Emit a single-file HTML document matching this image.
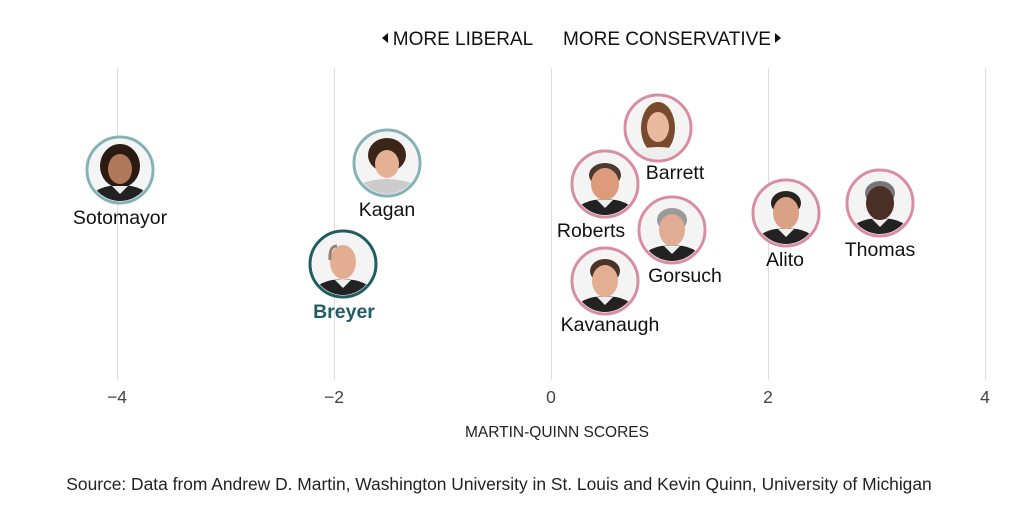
<!DOCTYPE html>
<html><head><meta charset="utf-8"><style>
html,body{margin:0;padding:0;background:#fff;}
svg{display:block;font-family:"Liberation Sans",sans-serif;}
</style></head><body>
<svg width="1023" height="507" viewBox="0 0 1023 507" xmlns="http://www.w3.org/2000/svg">
<defs>
<clipPath id="c"><circle cx="0" cy="0" r="31"/></clipPath>
<g id="robe"><path d="M-30 31 L-26 22 Q-14 14 0 16 Q14 14 26 22 L30 31 Z" fill="#222"/><path d="M-8 16 L0 24 L8 16 Z" fill="#eee"/></g>
</defs>
<g stroke="#ddd" stroke-width="1">
<line x1="117.5" y1="68" x2="117.5" y2="380"/><line x1="334.5" y1="68" x2="334.5" y2="380"/><line x1="551.5" y1="68" x2="551.5" y2="380"/><line x1="768.5" y1="68" x2="768.5" y2="380"/><line x1="985.5" y1="68" x2="985.5" y2="380"/>
</g>
<g font-size="17.5" fill="#111" text-anchor="middle">
<text x="117" y="403" fill="#444">−4</text><text x="334" y="403" fill="#444">−2</text><text x="551" y="403" fill="#444">0</text><text x="768" y="403" fill="#444">2</text><text x="985" y="403" fill="#444">4</text>
<text x="557" y="437" font-size="15.5" fill="#222">MARTIN-QUINN SCORES</text>
<text x="499" y="490" font-size="17.4" fill="#222">Source: Data from Andrew D. Martin, Washington University in St. Louis and Kevin Quinn, University of Michigan</text>
<text x="463" y="45" font-size="19" fill="#111">MORE LIBERAL</text>
<text x="667" y="45" font-size="19" fill="#111">MORE CONSERVATIVE</text>
</g>
<path d="M382 38 L388 33 L388 43 Z" fill="#111"/>
<path d="M775 33 L781 38 L775 43 Z" fill="#111"/>

<g transform="translate(120,170)"><g clip-path="url(#c)"><rect x="-31" y="-31" width="62" height="62" fill="#f4f4f4"/><ellipse cx="0" cy="-4" rx="20" ry="22" fill="#2a1a12"/><use href="#robe"/><ellipse cx="0" cy="-1" rx="12" ry="15" fill="#b07a5a"/></g><circle r="33" fill="none" stroke="#86b2b6" stroke-width="3"/></g>
<g transform="translate(387,163)"><g clip-path="url(#c)"><rect x="-31" y="-31" width="62" height="62" fill="#f4f4f4"/><ellipse cx="0" cy="-8" rx="19" ry="17" fill="#3b2418"/><path d="M-30 31 L-24 20 Q0 12 24 20 L30 31Z" fill="#ccc"/><ellipse cx="0" cy="1" rx="12" ry="14" fill="#e5b194"/></g><circle r="33" fill="none" stroke="#86b2b6" stroke-width="3"/></g>
<g transform="translate(343,264)"><g clip-path="url(#c)"><rect x="-31" y="-31" width="62" height="62" fill="#f4f4f4"/><use href="#robe"/><ellipse cx="0" cy="-2" rx="13" ry="17" fill="#e3ad92"/><path d="M-13 -4 Q-14 -18 -6 -18" stroke="#9a8070" stroke-width="3" fill="none"/></g><circle r="33" fill="none" stroke="#1f5d63" stroke-width="3"/></g>
<g transform="translate(658,128)"><g clip-path="url(#c)"><rect x="-31" y="-31" width="62" height="62" fill="#f4f4f4"/><ellipse cx="0" cy="0" rx="17" ry="26" fill="#7a4a2c"/><path d="M-30 31 L-22 22 Q0 16 22 22 L30 31Z" fill="#eee"/><ellipse cx="0" cy="-1" rx="11" ry="15" fill="#eab9a0"/></g><circle r="33" fill="none" stroke="#d88ea2" stroke-width="3"/></g>
<g transform="translate(605,184)"><g clip-path="url(#c)"><rect x="-31" y="-31" width="62" height="62" fill="#f4f4f4"/><use href="#robe"/><ellipse cx="0" cy="-9" rx="16" ry="12" fill="#4a3a30"/><ellipse cx="0" cy="0" rx="14" ry="16" fill="#dc9c7c"/></g><circle r="33" fill="none" stroke="#d88ea2" stroke-width="3"/></g>
<g transform="translate(672,230)"><g clip-path="url(#c)"><rect x="-31" y="-31" width="62" height="62" fill="#f4f4f4"/><use href="#robe"/><ellipse cx="0" cy="-10" rx="15" ry="12" fill="#9a9a9a"/><ellipse cx="0" cy="0" rx="13" ry="16" fill="#e0ac94"/></g><circle r="33" fill="none" stroke="#d88ea2" stroke-width="3"/></g>
<g transform="translate(605,281)"><g clip-path="url(#c)"><rect x="-31" y="-31" width="62" height="62" fill="#f4f4f4"/><use href="#robe"/><ellipse cx="0" cy="-10" rx="15" ry="12" fill="#4a3628"/><ellipse cx="0" cy="0" rx="13" ry="16" fill="#e2ae94"/></g><circle r="33" fill="none" stroke="#d88ea2" stroke-width="3"/></g>
<g transform="translate(786,213)"><g clip-path="url(#c)"><rect x="-31" y="-31" width="62" height="62" fill="#f4f4f4"/><use href="#robe"/><ellipse cx="0" cy="-10" rx="15" ry="12" fill="#2a2420"/><ellipse cx="0" cy="0" rx="13" ry="16" fill="#d9a284"/></g><circle r="33" fill="none" stroke="#d88ea2" stroke-width="3"/></g>
<g transform="translate(880,203)"><g clip-path="url(#c)"><rect x="-31" y="-31" width="62" height="62" fill="#f4f4f4"/><use href="#robe"/><ellipse cx="0" cy="-10" rx="15" ry="12" fill="#777"/><ellipse cx="0" cy="0" rx="14" ry="17" fill="#4a3024"/></g><circle r="33" fill="none" stroke="#d88ea2" stroke-width="3"/></g>

<g font-size="19.5" fill="#111" text-anchor="middle">
<text x="120" y="224">Sotomayor</text>
<text x="387" y="216">Kagan</text>
<text x="344" y="318" font-weight="bold" fill="#1f5d63">Breyer</text>
<text x="675" y="179">Barrett</text>
<text x="591" y="237">Roberts</text>
<text x="685" y="282">Gorsuch</text>
<text x="610" y="331">Kavanaugh</text>
<text x="785" y="266">Alito</text>
<text x="880" y="256">Thomas</text>
</g>
</svg>
</body></html>
